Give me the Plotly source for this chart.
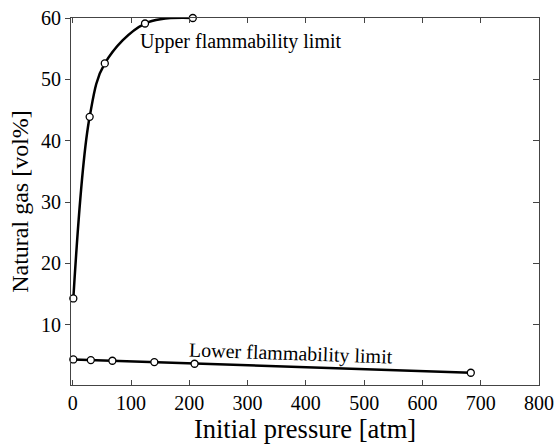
import plotly.graph_objects as go

# Data
upper_p = [1, 29, 55, 124, 206]
upper_c = [14.3, 43.9, 52.6, 59.1, 60.0]
lower_p = [1, 31, 68, 140, 209, 683]
lower_c = [4.36, 4.26, 4.15, 3.93, 3.66, 2.2]

x_ticks = [0, 100, 200, 300, 400, 500, 600, 700, 800]
y_ticks = [10, 20, 30, 40, 50, 60]

FONT = "Liberation Serif"
AX = "#444444"
xr = [-3, 800]
yr = [0.2, 60]

fig = go.Figure()
for xs, ys, shape in [(upper_p, upper_c, "spline"), (lower_p, lower_c, "linear")]:
    fig.add_trace(go.Scatter(
        x=xs, y=ys, mode="lines+markers",
        line=dict(color="black", width=2.5, shape=shape, smoothing=1.0),
        marker=dict(symbol="circle", size=7, color="white",
                    line=dict(color="black", width=1.3)),
        cliponaxis=False, showlegend=False, hoverinfo="skip",
    ))
fig.add_trace(go.Scatter(x=[None], y=[None], yaxis="y2", showlegend=False, hoverinfo="skip"))

fig.add_annotation(x=288, y=56.1, text="Upper flammability limit", showarrow=False,
                   font=dict(family=FONT, size=20, color="black"))
fig.add_annotation(x=374, y=5.3, text="Lower flammability limit", showarrow=False,
                   textangle=2, font=dict(family=FONT, size=20, color="black"))

fig.update_layout(
    template="none",
    width=555, height=444,
    margin=dict(l=71, r=16, t=18, b=59),
    paper_bgcolor="white", plot_bgcolor="white",
    font=dict(family=FONT, color="black", size=20),
    xaxis=dict(range=xr, tickvals=x_ticks, ticks="inside", ticklen=5, tickcolor=AX,
               showline=True, linecolor=AX, linewidth=1, mirror="ticks",
               showgrid=False, zeroline=False,
               tickfont=dict(family=FONT, size=20, color="black"),
               title=dict(text="Initial pressure [atm]", font=dict(family=FONT, size=26.5, color="black"),
                          standoff=2)),
    yaxis=dict(range=yr, tickvals=y_ticks, ticks="outside", ticklen=5, tickcolor=AX,
               showline=True, linecolor=AX, linewidth=1, mirror=True,
               showgrid=False, zeroline=False,
               tickfont=dict(family=FONT, size=20, color="black"),
               title=dict(text="Natural gas [vol%]", font=dict(family=FONT, size=24, color="black"),
                          standoff=5)),
    yaxis2=dict(range=yr, tickvals=y_ticks, overlaying="y", side="right", ticks="inside",
                ticklen=6, tickcolor=AX, showticklabels=False, showgrid=False,
                zeroline=False, showline=False),
)

fig.write_html("out.html")
